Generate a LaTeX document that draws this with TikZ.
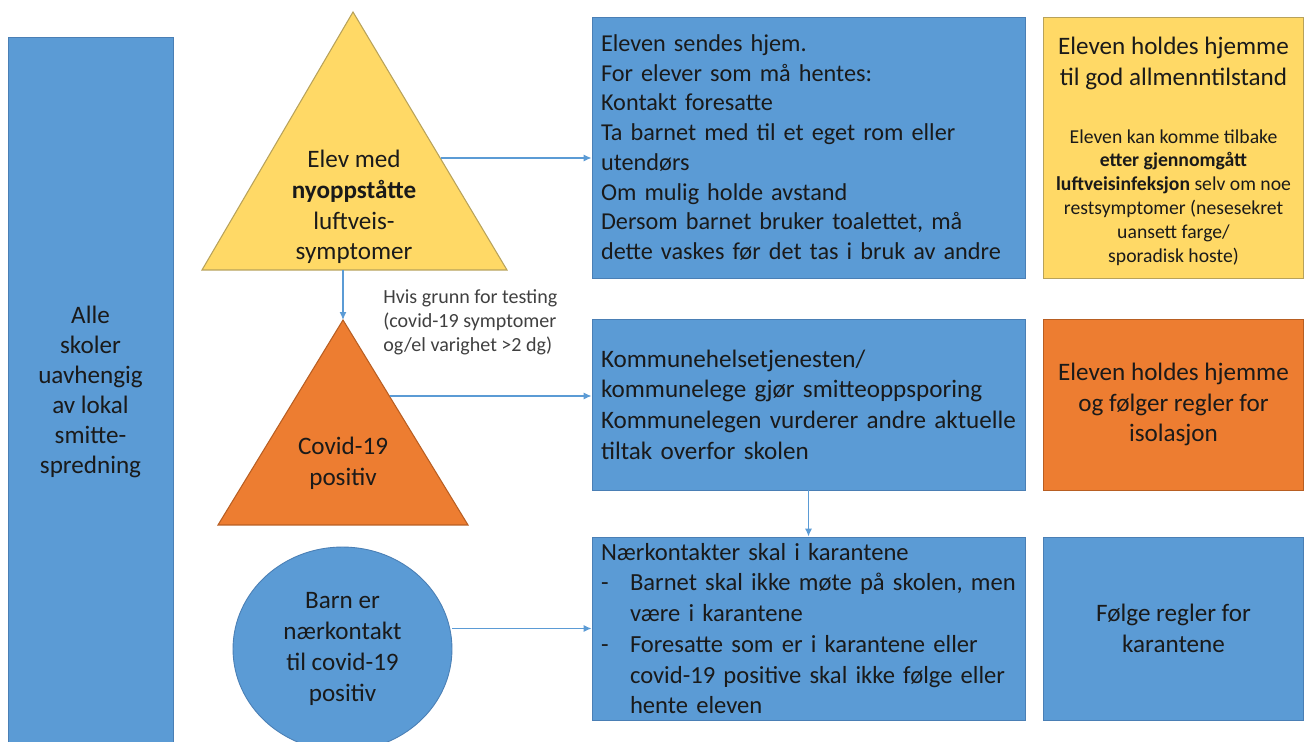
\documentclass[tikz,border=0pt]{standalone}
\usepackage{fontspec}
\setmainfont{Carlito}
\usepackage{tikz}
\usetikzlibrary{arrows.meta}
\usetikzlibrary{shapes.geometric}
\definecolor{fillblue}{HTML}{5B9BD5}
\definecolor{edgeblue}{HTML}{4A7FB5}
\definecolor{fillyellow}{HTML}{FFD966}
\definecolor{edgeyellow}{HTML}{B8A25A}
\definecolor{fillorange}{HTML}{ED7D31}
\definecolor{edgeorange}{HTML}{B85E22}
\definecolor{linkblue}{HTML}{5B9BD5}
\definecolor{inkc}{HTML}{1A1A1A}
\tikzset{>={Latex[length=4.5pt,width=4pt]}}
\tikzset{
  panel/.style={draw=edge#1, fill=fill#1, line width=0.5pt, inner sep=0pt,
    text=inkc, font=\fontsize{14.3}{17.5}\selectfont},
  tri/.style={draw=edge#1, fill=fill#1, line width=0.6pt},
  flow/.style={->, draw=linkblue, line width=0.8pt},
  plain/.style={inner sep=0pt, text=inkc, align=center,
    font=\fontsize{14.3}{17.5}\selectfont},
}

\begin{document}
\begin{tikzpicture}[x=0.02cm,y=-0.02cm]
    \useasboundingbox[fill=white] (0,0) rectangle (1304,742);

    % left column
    \node [panel=blue, minimum width=3.3cm, minimum height=14.2cm, align=center,
    font=\fontsize{14.3}{17}\selectfont] (alle) at (90.5,392)
    {Alle\\skoler\\uavhengig\\av lokal\\smitte-\\spredning};

    % triangles
    \coordinate (y1t) at (353, 12);
    \coordinate (y1l) at (202, 270);
    \coordinate (y1rr) at (507, 270);
    \coordinate (y1r) at (441, 158);
    \coordinate (y1b) at (343, 270);

    \coordinate (o1t) at (343, 320);
    \coordinate (o1l) at (218, 525);
    \coordinate (o1rr) at (468, 525);
    \coordinate (o1r) at (390, 396);

    \filldraw [tri=yellow] (y1t) -- (y1l) -- (y1rr) -- cycle;
    \filldraw [tri=orange] (o1t) -- (o1l) -- (o1rr) -- cycle;

    \node [plain] (symp) at (354, 207)
    {Elev med\\\textbf{nyoppståtte}\\luftveis-\\symptomer};
    \node [plain] (pos) at (343, 463) {Covid-19\\positiv};

    \node [panel=blue, ellipse, minimum width=4.38cm, minimum height=4.08cm,
    align=center, font=\fontsize{14.3}{17.6}\selectfont] (kontakt) at (342.5, 649)
    {Barn er\\nærkontakt\\til covid-19\\positiv};

    \node [plain, anchor=west, align=left, text=black!75,
    font=\fontsize{11.4}{13.6}\selectfont] (hvis) at (383, 322)
    {Hvis grunn for testing\\(covid-19 symptomer\\og/el varighet >2 dg)};

    % middle column
    \node [panel=blue, minimum width=8.66cm, minimum height=5.22cm,
    text width=8.3cm, align=left, font=\fontsize{13.8}{16.9}\selectfont]
    (hjem) at (808.5, 147.5)
    {Eleven sendes hjem.\\
     For elever som må hentes:\\
     Kontakt foresatte\\
     Ta barnet med til et eget rom eller\\
     utendørs\\
     Om mulig holde avstand\\
     Dersom barnet bruker toalettet, må\\
     \mbox{dette vaskes før det tas i bruk av andre}};

    \node [panel=blue, minimum width=8.66cm, minimum height=3.42cm,
    text width=8.3cm, align=left] (smitte) at (808.5, 404.5)
    {Kommunehelsetjenesten/\\
     kommunelege gjør smitteoppsporing\\
     \mbox{Kommunelegen vurderer andre aktuelle}\\
     tiltak overfor skolen};

    \node [panel=blue, minimum width=8.66cm, minimum height=3.66cm,
    text width=8.3cm, align=left, font=\fontsize{14}{17.5}\selectfont]
    (karant) at (808.5, 628.5)
    {Nærkontakter skal i karantene\\
     \makebox[0.58cm][l]{-}\mbox{Barnet skal ikke møte på skolen, men}\\
     \hspace*{0.58cm}være i karantene\\
     \makebox[0.58cm][l]{-}Foresatte som er i karantene eller\\
     \hspace*{0.58cm}\mbox{covid-19 positive skal ikke følge eller}\\
     \hspace*{0.58cm}hente eleven};

    % right column
    \node [panel=yellow, minimum width=5.2cm, minimum height=5.22cm]
    (hold) at (1173.5, 147.5) {};
    \node [plain] (holdhead) at (1173.5, 63.5)
    {Eleven holdes hjemme\\til god allmenntilstand};
    \node [plain, font=\fontsize{11.2}{13.6}\selectfont] (holdnote) at (1173.5, 197.5)
    {Eleven kan komme tilbake\\
     \textbf{etter gjennomgått}\\
     \textbf{luftveisinfeksjon} selv om noe\\
     restsymptomer (nesesekret\\
     uansett farge/\\
     sporadisk hoste)};

    \node [panel=orange, minimum width=5.2cm, minimum height=3.42cm, align=center]
    (isol) at (1173.5, 404.5)
    {Eleven holdes hjemme\\og følger regler for\\isolasjon};

    \node [panel=blue, minimum width=5.2cm, minimum height=3.66cm, align=center]
    (regler) at (1173.5, 628.5)
    {Følge regler for\\karantene};

    % connectors
    \draw [flow] (y1r) -- (y1r -| hjem.west);
    \draw [flow] (y1b) -- (o1t);
    \draw [flow] (o1r) -- (o1r -| smitte.west);
    \draw [flow] (smitte.south) -- (karant.north);
    \draw [flow] (kontakt.east |- karant.west) -- (karant.west);

  \end{tikzpicture}
\end{document}
